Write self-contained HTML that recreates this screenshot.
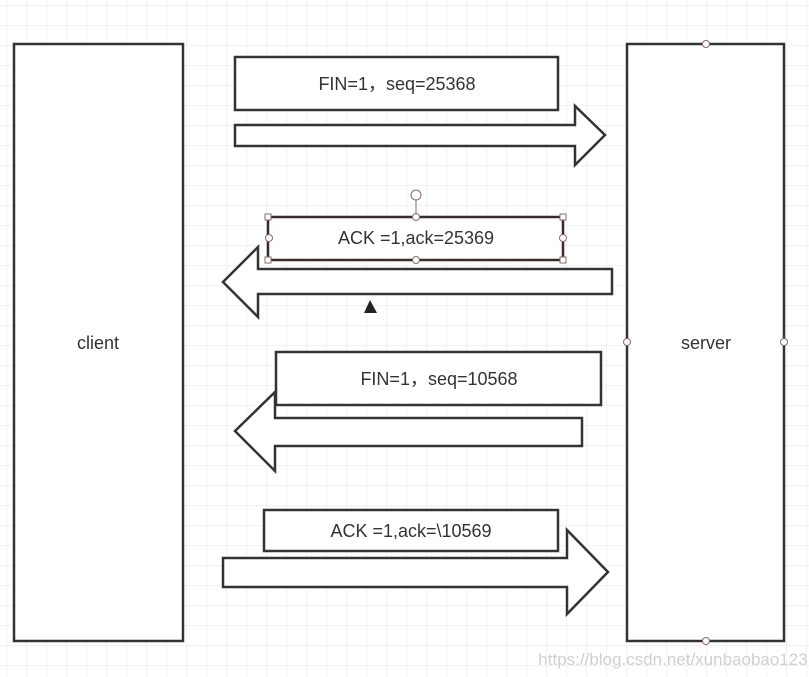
<!DOCTYPE html>
<html><head><meta charset="utf-8"><style>
html,body{margin:0;padding:0;background:#fff;}
body{width:809px;height:677px;overflow:hidden;}
svg{display:block;font-family:"Liberation Sans","Noto Sans CJK SC",sans-serif;}
</style></head><body>
<svg width="809" height="677" viewBox="0 0 809 677" xmlns="http://www.w3.org/2000/svg">
<defs><pattern id="g" x="6" y="5" width="20" height="20" patternUnits="userSpaceOnUse">
<path d="M0 0H20M0 0V20" stroke="#e6e6e6" stroke-width="1" fill="none"/></pattern></defs>
<rect width="809" height="677" fill="url(#g)"/>
<g stroke="#333" stroke-width="2.5" fill="#fff">
<rect x="14" y="44" width="169" height="597"/>
<rect x="627" y="44" width="157" height="597"/>
<rect x="235" y="57" width="323" height="53"/>
<polygon points="235,125 575,125 575,106 605,135 575,165 575,146 235,146"/>
<rect x="268" y="217" width="295" height="43" stroke="#3a2a2a"/>
<polygon points="612,269 258,269 258,247 223,282 258,317 258,294 612,294"/>
<polygon points="582,418 275,418 275,392 235,431 275,471 275,446 582,446"/>
<rect x="276" y="352" width="325" height="53"/>
<rect x="264" y="510" width="294" height="41"/>
<polygon points="223,558 567,558 567,530 608,572 567,614 567,587 223,587"/>
</g>
<g stroke="#8a6a6a" stroke-width="1" fill="#fff">
<line x1="416" y1="200" x2="416" y2="217"/>
<circle cx="416" cy="195" r="5"/>
<rect x="265" y="214" width="6" height="6"/><rect x="560" y="214" width="6" height="6"/>
<rect x="265" y="257" width="6" height="6"/><rect x="560" y="257" width="6" height="6"/>
<circle cx="416" cy="217" r="3.5"/><circle cx="416" cy="260" r="3.5"/>
<circle cx="269" cy="238" r="3.5"/><circle cx="563" cy="238" r="3.5"/>
<circle cx="706" cy="44" r="3.5"/><circle cx="706" cy="641" r="3.5"/>
<circle cx="627" cy="342" r="3.5"/><circle cx="784" cy="342" r="3.5"/>
</g>
<polygon points="370,300 364,313 377,313" fill="#222"/>
<g fill="#333" font-size="18" text-anchor="middle">
<text x="98" y="349">client</text>
<text x="706" y="349">server</text>
<text x="397" y="90">FIN=1，seq=25368</text>
<text x="416" y="244">ACK =1,ack=25369</text>
<text x="439" y="385">FIN=1，seq=10568</text>
<text x="411" y="537">ACK =1,ack=\10569</text>
</g>
<text x="673" y="665" fill="#d0d0d0" font-size="17" text-anchor="middle">https://blog.csdn.net/xunbaobao123</text>
</svg>
</body></html>
